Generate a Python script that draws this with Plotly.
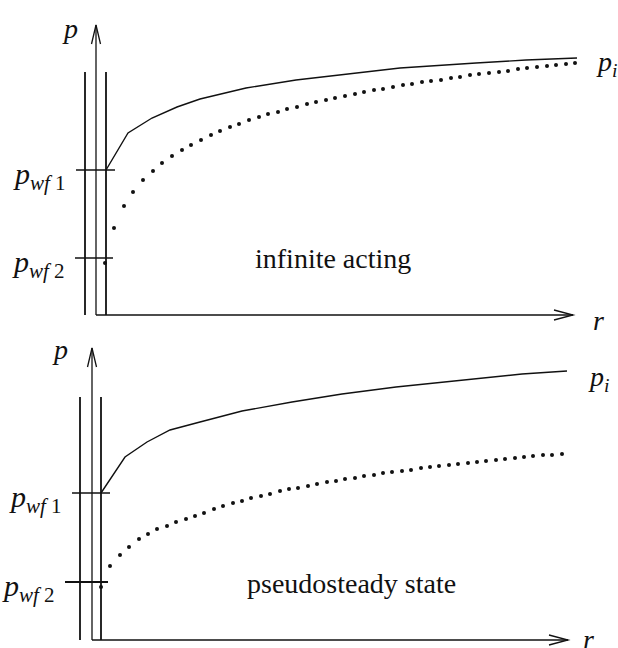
import plotly.graph_objects as go

# Units are roughly pixels: r measured from the p-axis, p measured up from the r-axis

# ---- infinite acting (top) ----
r_ia_line = [10, 32, 56, 81, 104, 150, 200, 250, 304, 380, 430, 481]
p_ia_line = [145, 182, 197, 208, 216, 227, 235, 241, 247, 252, 255, 257]

r_ia_dots = [9, 18, 28, 37, 47, 57, 66, 76, 86, 95,
             105, 115, 124, 134, 143, 153, 163, 172, 182, 191,
             201, 211, 220, 230, 239, 249, 259, 268, 278, 287,
             297, 307, 316, 326, 335, 345, 355, 364, 374, 383,
             393, 403, 412, 422, 431, 441, 451, 460, 470, 479]
p_ia_dots = [52, 87, 109, 123, 135, 144, 152, 159, 165, 170,
             175, 180, 184, 188, 191, 195, 198, 201, 203, 206,
             208, 211, 213, 215, 217, 219, 221, 223, 225, 226,
             228, 230, 231, 233, 234, 235, 237, 238, 240, 241,
             242, 243, 244, 246, 247, 248, 249, 250, 251, 252]
p_wf_ia = [145, 57]

# ---- pseudosteady state (bottom) ----
r_ps_line = [9, 33, 55, 78, 108, 150, 200, 250, 304, 380, 430, 475]
p_ps_line = [147, 183, 198, 210, 218, 229, 238, 246, 253, 261, 266, 269]

r_ps_dots = [9, 18, 28, 37, 47, 56, 65, 75, 84, 94,
             103, 112, 122, 131, 141, 150, 159, 169, 178, 188,
             197, 206, 216, 225, 235, 244, 253, 263, 272, 282,
             291, 300, 310, 319, 329, 338, 347, 357, 366, 376,
             385, 394, 404, 413, 423, 432, 441, 451, 460, 470]
p_ps_dots = [53, 74, 85, 93, 101, 106, 111, 114, 118, 121,
             124, 127, 131, 134, 137, 139, 142, 144, 146, 149,
             151, 152, 154, 156, 158, 159, 161, 162, 164, 165,
             167, 168, 169, 170, 172, 173, 174, 175, 176, 177,
             178, 179, 180, 181, 182, 183, 184, 185, 185, 186]
p_wf_ps = [147, 58]

wf_labels = ['<i>p</i><sub><i>wf</i> 1</sub>', '<i>p</i><sub><i>wf</i> 2</sub>']
titles = ['infinite acting', 'pseudosteady state']

FONT = 'Liberation Serif, Times New Roman, serif'
INK = '#111111'

fig = go.Figure()


def add_panel(fig, k, r_line, p_line, r_dots, p_dots, p_wf, title,
              r_end, p_top, walls, tick_ext, tick_w, lab_pos):
    xa = 'x' if k == 1 else 'x%d' % k
    ya = 'y' if k == 1 else 'y%d' % k

    # solid curve
    fig.add_trace(go.Scatter(x=r_line, y=p_line, mode='lines',
                             line=dict(color=INK, width=1.4),
                             xaxis=xa, yaxis=ya, showlegend=False))
    # dotted curve
    fig.add_trace(go.Scatter(x=r_dots, y=p_dots, mode='markers',
                             marker=dict(color=INK, size=4),
                             xaxis=xa, yaxis=ya, showlegend=False))

    shp = dict(xref=xa, yref=ya, line=dict(color=INK, width=1.3))
    # axes
    fig.add_shape(type='line', x0=0, y0=0, x1=0, y1=p_top, **shp)
    fig.add_shape(type='line', x0=0, y0=0, x1=r_end, y1=0, **shp)
    fig.add_shape(type='path',
                  path='M %g,%g L 0,%g L %g,%g' % (-4.5, p_top - 19, p_top, 4.5, p_top - 19),
                  **shp)
    fig.add_shape(type='path',
                  path='M %g,%g L %g,0 L %g,%g' % (r_end - 19, 5, r_end, r_end - 19, -5),
                  **shp)
    # wellbore walls
    for rw in walls:
        fig.add_shape(type='line', x0=rw, y0=0, x1=rw, y1=243,
                      xref=xa, yref=ya, line=dict(color=INK, width=1.8))
    # p_wf ticks and labels
    for pw, (a, b), w, lab in zip(p_wf, tick_ext, tick_w, wf_labels):
        fig.add_shape(type='line', x0=a, y0=pw, x1=b, y1=pw, xref=xa, yref=ya,
                      line=dict(color=INK, width=w))
        fig.add_annotation(x=a - 8, y=pw - 6, xref=xa, yref=ya, text=lab,
                           showarrow=False, xanchor='right', yanchor='middle',
                           font=dict(family=FONT, size=30, color=INK))

    (px, py), (pix, piy), (rx, ry), (tx, ty) = lab_pos
    fig.add_annotation(x=px, y=py, xref=xa, yref=ya, text='<i>p</i>', showarrow=False,
                       font=dict(family=FONT, size=28, color=INK))
    fig.add_annotation(x=pix, y=piy, xref=xa, yref=ya, text='<i>p<sub>i</sub></i>',
                       showarrow=False, font=dict(family=FONT, size=28, color=INK))
    fig.add_annotation(x=rx, y=ry, xref=xa, yref=ya, text='<i>r</i>', showarrow=False,
                       font=dict(family=FONT, size=28, color=INK))
    fig.add_annotation(x=tx, y=ty, xref=xa, yref=ya, text=title, showarrow=False,
                       font=dict(family=FONT, size=28, color=INK))


add_panel(fig, 1, r_ia_line, p_ia_line, r_ia_dots, p_ia_dots, p_wf_ia, titles[0],
          r_end=477, p_top=290, walls=[-11, 10],
          tick_ext=[(-20, 19), (-21, 17)], tick_w=[1.3, 1.3],
          lab_pos=[(-26, 287), (510, 252), (502, -5), (237, 57)])
add_panel(fig, 2, r_ps_line, p_ps_line, r_ps_dots, p_ps_dots, p_wf_ps, titles[1],
          r_end=476, p_top=292, walls=[-12, 9],
          tick_ext=[(-20, 18), (-27, 16)], tick_w=[1.3, 2],
          lab_pos=[(-32, 291), (506, 262), (496, 1), (259, 57)])

ax = dict(visible=False, showgrid=False, zeroline=False, fixedrange=True)
fig.update_layout(
    width=618, height=648,
    margin=dict(l=0, r=0, t=0, b=0),
    paper_bgcolor='white', plot_bgcolor='white',
    xaxis=dict(domain=[0, 1], range=[-96, 522], **ax),
    yaxis=dict(domain=[0.5, 1], range=[-9, 315], **ax),
    xaxis2=dict(domain=[0, 1], range=[-92, 526], **ax),
    yaxis2=dict(domain=[0, 0.5], range=[-8, 316], **ax),
)

# page has a default body margin; drop it so the figure sits at the corner
fig.write_html('out.html', config={'displayModeBar': False},
               post_script="document.body.style.margin='0';")
